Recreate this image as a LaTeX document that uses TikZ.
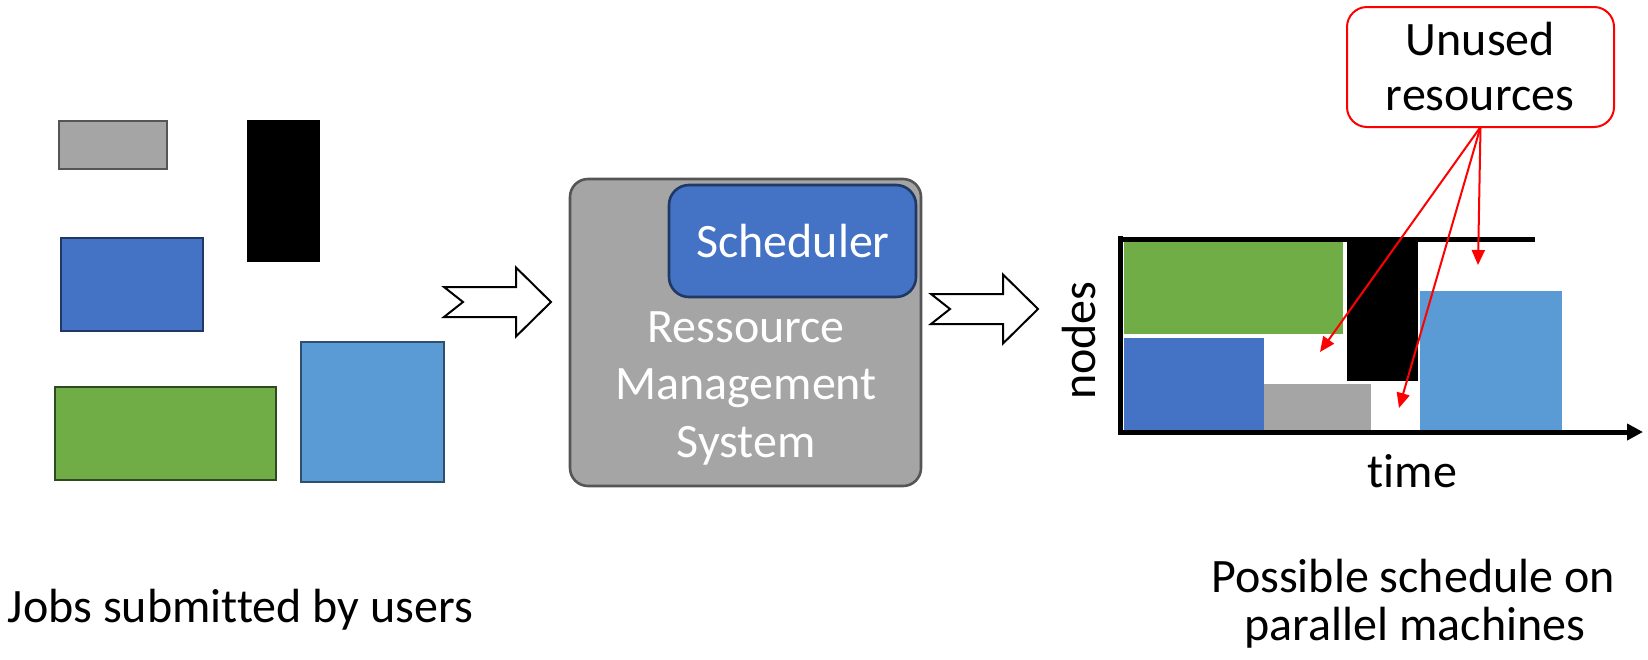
\documentclass[tikz,border=0pt]{standalone}
\usepackage{fontspec}
\setmainfont{Carlito}[Ligatures={TeX,NoCommon}]
\usetikzlibrary{arrows.meta}

\definecolor{jobgray}{HTML}{A5A5A5}
\definecolor{grayedge}{HTML}{555555}
\definecolor{jobblue}{HTML}{4472C4}
\definecolor{blueedge}{HTML}{1F3864}
\definecolor{jobgreen}{HTML}{70AD47}
\definecolor{greenedge}{HTML}{2E4B1F}
\definecolor{jobsky}{HTML}{5B9BD5}
\definecolor{skyedge}{HTML}{2E4F6E}
\definecolor{alertred}{HTML}{FF0000}

\begin{document}
\begin{tikzpicture}[x=0.5pt, y=-0.5pt,
  every node/.style={inner sep=0pt, outer sep=0pt},
  label24/.style={font=\fontsize{24}{28}\selectfont, anchor=base},
  job/.style={line width=1.4pt},
  hollowarrow/.style={draw=black, fill=white, line width=1pt, line join=miter},
  rmsbox/.style={draw=grayedge, fill=jobgray, line width=1.3pt, rounded corners=9pt},
  schedbox/.style={draw=blueedge, fill=jobblue, line width=1.3pt, rounded corners=10pt},
  unusedbox/.style={draw=alertred, fill=white, line width=1pt, rounded corners=10pt},
  axis/.style={line width=2.5pt, black},
  pointer/.style={draw=alertred, line width=1pt, -{Triangle[length=7.5pt, width=6.5pt]}},
  pics/fatarrow/.style={code={
    \draw[hollowarrow] (0,-15) -- (72,-15) -- (72,-34.5) -- (107,0)
      -- (72,34.5) -- (72,15) -- (0,15) -- (19,0) -- cycle;
  }}
]
\useasboundingbox (0,0) rectangle (1648,659);

% submitted jobs
\draw[job, draw=grayedge, fill=jobgray] (59,121) rectangle (167,169);
\fill[black] (247,120) rectangle (320,262);
\draw[job, draw=blueedge, fill=jobblue] (61,238) rectangle (203,331);
\draw[job, draw=greenedge, fill=jobgreen] (55,387) rectangle (276,480);
\draw[job, draw=skyedge, fill=jobsky] (301,342) rectangle (444,482);
\node[label24, anchor=base west] (jobs) at (8,622) {Jobs submitted by users};

% flow arrows
\pic at (444,302) {fatarrow};
\pic at (931,309) {fatarrow};

% resource management system with scheduler
\node[rmsbox, minimum width=175.5pt, minimum height=153.5pt] (rms) at (745.5,332.5) {};
\node[schedbox, minimum width=123.5pt, minimum height=56pt] (sched) at (792.5,241) {};
\node[label24, text=white] (schedtext) at (793,257) {Scheduler};
\node[label24, text=white] (rmsA) at (746,342) {Ressource};
\node[label24, text=white] (rmsB) at (746,399) {Management};
\node[label24, text=white] (rmsC) at (746,457) {System};

% schedule on parallel machines
\fill[jobgreen] (1124,242) rectangle (1343,334);
\fill[jobblue] (1124,338) rectangle (1264,430);
\fill[jobgray] (1264,384) rectangle (1371,430);
\fill[black] (1347,241) rectangle (1418,381);
\fill[jobsky] (1420,291) rectangle (1562,430);

\coordinate (topL) at (1118,239);
\coordinate (topR) at (1535,239);
\coordinate (axL) at (1120,236);
\coordinate (origin) at (1120,434);
\coordinate (timeO) at (1118,432);
\coordinate (timeE) at (1643,432);
\draw[axis] (topL) -- (topR);
\draw[axis] (axL) -- (origin);
\draw[axis, -{Triangle[length=8pt, width=8pt]}] (timeO) -- (timeE);

\node[label24, rotate=90] (nodeslabel) at (1095,340.5) {nodes};
\node[label24] (timelabel) at (1412.5,487) {time};
\node[label24] (possA) at (1413,592) {Possible schedule on};
\node[label24] (possB) at (1415,640) {parallel machines};

% unused resources callout
\node[unusedbox, minimum width=133.5pt, minimum height=60pt] (unused) at (1480.5,67) {};
\node[label24] (unusedA) at (1480.5,55) {Unused};
\node[label24] (unusedB) at (1480,110) {resources};

\coordinate (gapA) at (1320,352);
\coordinate (gapB) at (1399,408);
\coordinate (gapC) at (1478,265);
\draw[pointer] (unused.south) -- (gapA);
\draw[pointer] (unused.south) -- (gapB);
\draw[pointer] (unused.south) -- (gapC);
\end{tikzpicture}
\end{document}
